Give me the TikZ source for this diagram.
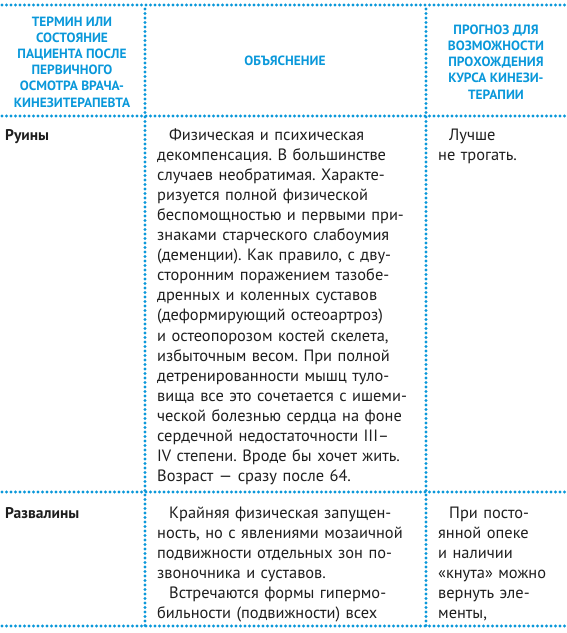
\documentclass[tikz,border=0pt]{standalone}
\usepackage{fontspec}
\setmainfont{PT Sans}
\frenchspacing
\definecolor{tblue}{RGB}{10,152,218}
\definecolor{ink}{RGB}{30,30,30}
\begin{document}
\begin{tikzpicture}[x=1pt, y=-1pt,
    dots/.style={tblue, line width=3.2pt, line cap=round, dash pattern=on 0pt off 4.5pt},
    head/.style={tblue, align=center, inner sep=0pt, font=\fontsize{13.4}{16.2}\selectfont\bfseries},
    term/.style={ink, anchor=base west, inner sep=0pt, font=\fontsize{15.5}{20}\selectfont\bfseries},
    cell/.style={ink, anchor=base west, align=left, inner sep=0pt, text width=265pt, font=\fontsize{16.4}{20.1}\selectfont}]
    \useasboundingbox (0,0) rectangle (566,633);

    \draw[dots] (2,5) -- (566,5);
    \draw[dots] (2,116) -- (566,116);
    \draw[dots] (2,492) -- (566,492);
    \draw[dots] (2,626) -- (566,626);
    \draw[dots] (145,9) -- (145,626);
    \draw[dots] (426,9) -- (426,626);

    \node[head] (h1) at (72,62) {ТЕРМИН ИЛИ\\СОСТОЯНИЕ\\ПАЦИЕНТА ПОСЛЕ\\ПЕРВИЧНОГО\\ОСМОТРА ВРАЧА-\\КИНЕЗИТЕРАПЕВТА};
    \node[head] (h2) at (285,61) {ОБЪЯСНЕНИЕ};
    \node[head] (h3) at (496,62) {ПРОГНОЗ ДЛЯ\\ВОЗМОЖНОСТИ\\ПРОХОЖДЕНИЯ\\КУРСА КИНЕЗИ-\\ТЕРАПИИ};

    \node[term] (t1) at (5,140) {Руины};
    \node[cell] (e1) at (157,140) {\hspace*{12pt}Физическая и психическая\\
        декомпенсация. В большинстве\\
        случаев необратимая. Характе-\\
        ризуется полной физической\\
        беспомощностью и первыми при-\\
        знаками старческого слабоумия\\
        (деменции). Как правило, с дву-\\
        сторонним поражением тазобе-\\
        дренных и коленных суставов\\
        (деформирующий остеоартроз)\\
        и остеопорозом костей скелета,\\
        избыточным весом. При полной\\
        детренированности мышц туло-\\
        вища все это сочетается с ишеми-\\
        ческой болезнью сердца на фоне\\
        сердечной недостаточности III–\\
        IV степени. Вроде бы хочет жить.\\
        Возраст — сразу после 64.};
    \node[cell, text width=120pt] (p1) at (438,140) {\hspace*{11pt}Лучше\\не трогать.};

    \node[term] (t2) at (5,518) {Развалины};
    \node[cell] (e2) at (157,518) {\hspace*{12pt}Крайняя физическая запущен-\\
        ность, но с явлениями мозаичной\\
        подвижности отдельных зон по-\\
        звоночника и суставов.\\
        \hspace*{12pt}Встречаются формы гипермо-\\
        бильности (подвижности) всех};
    \node[cell, text width=120pt] (p2) at (438,518) {\hspace*{11pt}При посто-\\
        янной опеке\\
        и наличии\\
        «кнута» можно\\
        вернуть эле-\\
        менты,};
\end{tikzpicture}
\end{document}
